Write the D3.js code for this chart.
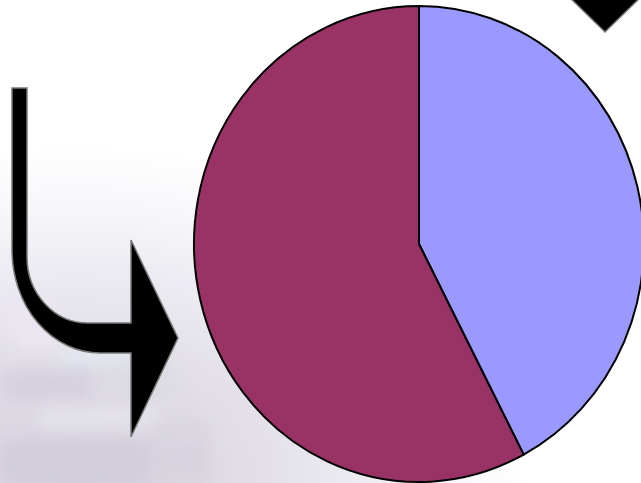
<!DOCTYPE html>
<html><head><meta charset="utf-8">
<script src="https://cdn.jsdelivr.net/npm/d3@7"></script>
<style>html,body{margin:0;padding:0;background:#fff;}svg{display:block;}</style>
</head><body>
<script>
const categories = ["Series A", "Series B"];
const values = [42.3, 57.7];
const colors = ["#9999FF", "#993366"];
const titleText = "y,";

const W = 641, H = 483;
const svg = d3.select("body").append("svg").attr("width", W).attr("height", H);
const defs = svg.append("defs");

// background: faded photo-like wash
const rg = defs.append("radialGradient").attr("id","bg").attr("cx","0.12").attr("cy","1.0").attr("r","0.7");
rg.append("stop").attr("offset","0").attr("stop-color","#d4d0dc");
rg.append("stop").attr("offset","0.45").attr("stop-color","#e4e1ea");
rg.append("stop").attr("offset","0.8").attr("stop-color","#f6f5f9");
rg.append("stop").attr("offset","1").attr("stop-color","#ffffff");
svg.append("rect").attr("width",W).attr("height",H).attr("fill","url(#bg)");
const blur = defs.append("filter").attr("id","blur").attr("x","-50%").attr("y","-50%").attr("width","200%").attr("height","200%");
blur.append("feGaussianBlur").attr("stdDeviation", 7);
const patches = [
  [0,370,90,30,"#d2cedb"],[40,405,120,25,"#e6e3ec"],[0,440,210,43,"#cfcbd7"],
  [95,365,80,30,"#dcd9e3"],[0,300,60,40,"#ebe6f0"],[150,420,60,63,"#d9d5e0"],
  [20,335,40,15,"#efe8f2"],[60,350,70,12,"#e2edf3"]
];
svg.append("g").attr("filter","url(#blur)").selectAll("rect").data(patches).join("rect")
  .attr("x",d=>d[0]).attr("y",d=>d[1]).attr("width",d=>d[2]).attr("height",d=>d[3]).attr("fill",d=>d[4]).attr("opacity",0.75);

// title (cut off at top in the reference)
svg.append("text").attr("x",352).attr("y",-3).attr("font-family","Liberation Sans, Arial, sans-serif")
  .attr("font-size",16).attr("font-weight","bold").attr("fill","#000").text(titleText);

// pie
const cx = 419, cy = 244, ry = 238, rx = 225;
const pie = d3.pie().sort(null).value(d=>d)(values);
const arc = d3.arc().innerRadius(0).outerRadius(ry);
const g = svg.append("g").attr("transform",`translate(${cx},${cy}) scale(${rx/ry},1)`);
g.selectAll("path").data(pie).join("path")
  .attr("d", arc).attr("fill",(d,i)=>colors[i])
  .attr("stroke","#000").attr("stroke-width",2).attr("stroke-linejoin","round")
  .attr("vector-effect","non-scaling-stroke");

// left bent arrow
const arrow = "M12,88 L27,88 L27,257 A61,66 0 0 0 88,323 L131,323 L131,240 L178,338 L131,437 L131,353 L100,353 A88,103 0 0 1 12,250 Z";
svg.append("path").attr("d",arrow).attr("fill","#000").attr("stroke","#7a7a7a").attr("stroke-width",1.5).attr("stroke-linejoin","miter");

// top-right diamond
svg.append("path").attr("d","M605,-42 L643,-5 L605,32 L567,-5 Z").attr("fill","#000").attr("stroke","#7a7a7a").attr("stroke-width",1.5);
</script>
</body></html>
